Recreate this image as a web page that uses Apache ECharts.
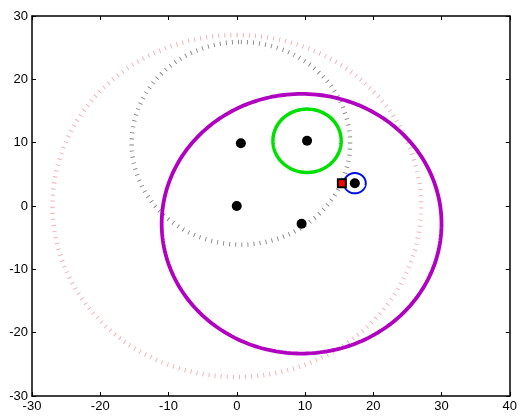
<!DOCTYPE html>
<html>
<head>
<meta charset="utf-8">
<script src="https://cdn.jsdelivr.net/npm/echarts@6/dist/echarts.min.js"></script>
<style>
  html, body { margin: 0; padding: 0; background: #fff; }
  #chart { width: 520px; height: 416px; }
</style>
</head>
<body>
<div id="chart"></div>
<script>
// Axis ranges and ticks
const xTicks = [-30, -20, -10, 0, 10, 20, 30, 40];
const yTicks = [-30, -20, -10, 0, 10, 20, 30];

// Anchor points (black dots)
const dotX = [0.6, 0, 10.3, 9.5, 17.3];
const dotY = [9.9, 0, 10.3, -2.8, 3.6];

// Estimated position (red square)
const estX = [15.4];
const estY = [3.6];

// Range circles: centre x, centre y, radius
const solidCx = [9.5, 10.3, 17.3];
const solidCy = [-2.8, 10.3, 3.6];
const solidR  = [20.5, 5.0, 1.6];
const solidColor = ['#b000c0', '#00e000', '#0010e0'];
const solidWidth = [3.8, 3.5, 2];

const dottedCx = [0.0, 0.6];
const dottedCy = [0.0, 9.9];
const dottedR  = [27.0, 16.0];
const dottedColor = ['rgba(235,90,100,0.5)', 'rgba(50,50,50,0.6)'];

function ringSeries(cx, cy, r, color, width, dash) {
  return {
    type: 'custom',
    coordinateSystem: 'cartesian2d',
    xAxisIndex: 0, yAxisIndex: 0,
    data: [[cx, cy, r]],
    silent: true,
    renderItem: function (params, api) {
      const c = api.coord([api.value(0), api.value(1)]);
      const rr = api.value(2);
      const rx = api.size([rr, 0])[0];
      const ry = api.size([0, rr])[1];
      const pts = [];
      const n = 240;
      for (let i = 0; i <= n; i++) {
        const a = Math.PI / 2 - (i / n) * Math.PI * 2;
        pts.push([c[0] + rx * Math.cos(a), c[1] - ry * Math.sin(a)]);
      }
      return {
        type: 'polyline',
        shape: { points: pts },
        style: {
          fill: null,
          stroke: color,
          lineWidth: width,
          lineDash: dash || null,
          lineCap: 'butt'
        }
      };
    }
  };
}

const series = [];
for (let i = 0; i < dottedR.length; i++) {
  series.push(ringSeries(dottedCx[i], dottedCy[i], dottedR[i], dottedColor[i], 4.5, [0.9, 5.2]));
}
for (let i = 0; i < solidR.length; i++) {
  series.push(ringSeries(solidCx[i], solidCy[i], solidR[i], solidColor[i], solidWidth[i]));
}
series.push({
  type: 'scatter',
  data: dotX.map((x, i) => [x, dotY[i]]),
  symbol: 'circle',
  symbolSize: 10,
  itemStyle: { color: '#000', opacity: 1 },
  silent: true,
  z: 5
});
series.push({
  type: 'scatter',
  data: estX.map((x, i) => [x, estY[i]]),
  symbol: 'rect',
  symbolSize: 8,
  itemStyle: { color: '#ff0000', borderColor: '#000', borderWidth: 2, opacity: 1 },
  silent: true,
  z: 6
});

const labelStyle = {
  color: '#000',
  fontFamily: 'Liberation Sans, Arial, sans-serif',
  fontSize: 13
};

function valueAxis(min, max, pos, showLabels, ticks) {
  return {
    type: 'value',
    min: min, max: max, interval: 10,
    position: pos,
    axisLine: { onZero: false, lineStyle: { color: '#000', width: 1.5 } },
    axisTick: { inside: true, length: 4, lineStyle: { color: '#000' } },
    axisLabel: showLabels ? Object.assign({
      formatter: v => ticks.indexOf(v) >= 0 ? String(v) : ''
    }, labelStyle, { margin: 4 }) : { show: false },
    splitLine: { show: false }
  };
}

const chart = echarts.init(document.getElementById('chart'), null, { renderer: 'canvas' });
chart.setOption({
  animation: false,
  backgroundColor: '#fff',
  grid: { left: 32, right: 8, top: 16, bottom: 20 },
  xAxis: [
    valueAxis(xTicks[0], xTicks[xTicks.length - 1], 'bottom', true, xTicks),
    valueAxis(xTicks[0], xTicks[xTicks.length - 1], 'top', false, xTicks)
  ],
  yAxis: [
    valueAxis(yTicks[0], yTicks[yTicks.length - 1], 'left', true, yTicks),
    valueAxis(yTicks[0], yTicks[yTicks.length - 1], 'right', false, yTicks)
  ],
  series: series
});
</script>
</body>
</html>
